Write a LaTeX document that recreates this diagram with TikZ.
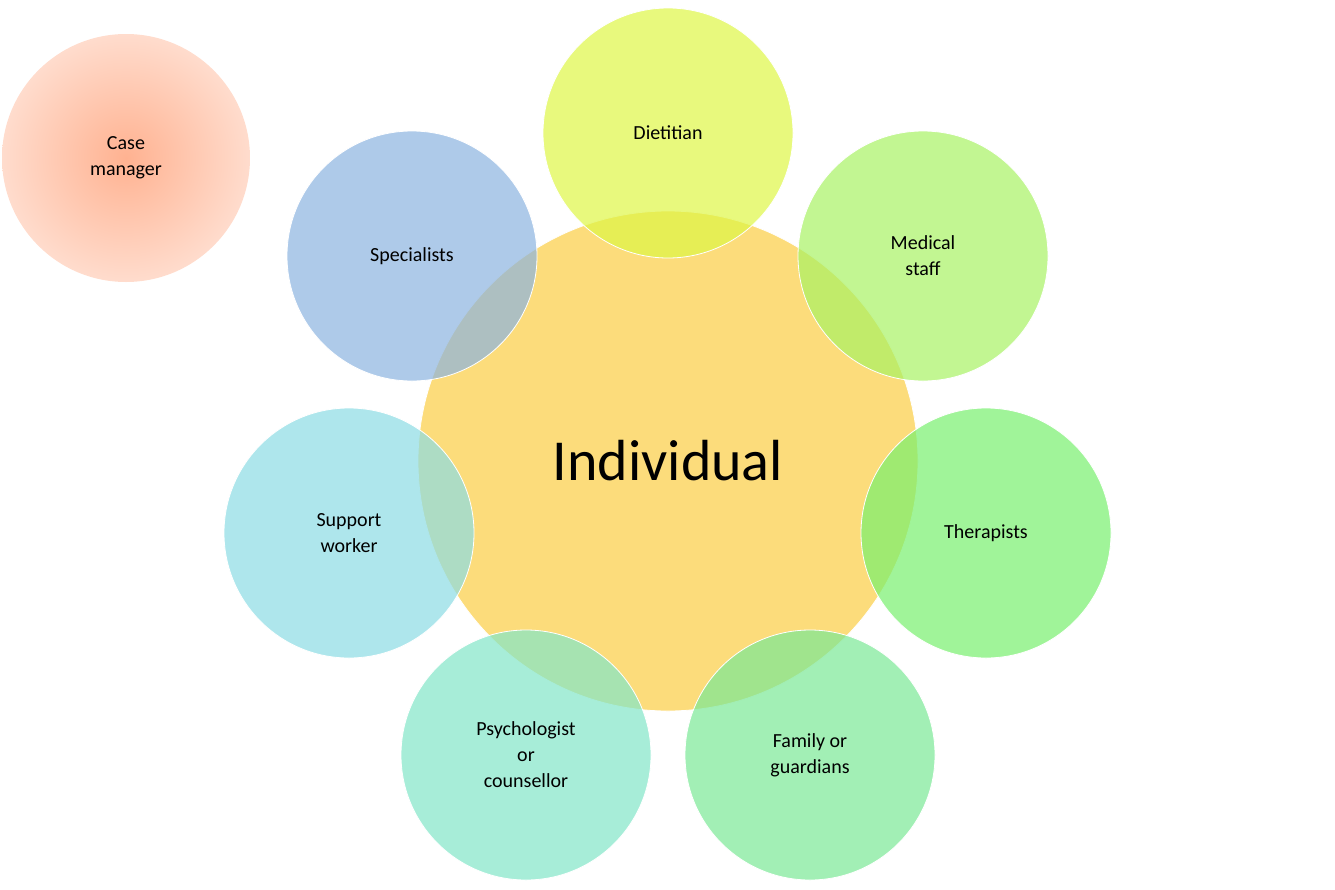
\documentclass[tikz,border=0pt]{standalone}
\usepackage{fontspec}
\setmainfont{Carlito}
\definecolor{hub}{RGB}{252,214,100}
\definecolor{dietc}{RGB}{222,246,70}
\definecolor{medc}{RGB}{168,242,100}
\definecolor{therc}{RGB}{120,240,110}
\definecolor{famc}{RGB}{122,232,150}
\definecolor{psyc}{RGB}{130,230,200}
\definecolor{supc}{RGB}{140,220,228}
\definecolor{specc}{RGB}{140,180,224}
\begin{document}
\begin{tikzpicture}[x=1pt, y=-1pt, outer sep = 0pt]
  \tikzstyle{member}=[
    draw=white,
    circle,
    minimum size=250pt,
    align=center,
    font=\fontsize{20}{26}\selectfont,
    fill opacity=0.7,
    text opacity=1,
    thick
  ]
  \useasboundingbox (0,0) rectangle (1335,889);

  \node[circle, minimum size=500pt, fill=hub!85, draw=white, thick,
        font=\fontsize{58}{70}\selectfont] (indiv) at (668,461) {Individual};

  \node[member, fill=dietc] (diet) at (668,133) {Dietitian};
  \node[member, fill=medc] (med) at (923,256) {Medical\\staff};
  \node[member, fill=therc] (ther) at (986,533) {Therapists};
  \node[member, fill=famc] (fam) at (810,755) {Family or\\guardians};
  \node[member, fill=psyc] (psy) at (526,755) {Psychologist\\or\\counsellor};
  \node[member, fill=supc] (sup) at (349,533) {Support\\worker};
  \node[member, fill=specc] (spec) at (412,256) {Specialists};

  \node[circle, minimum size=248pt, inner color={rgb,255:red,255;green,178;blue,145},
        outer color={rgb,255:red,255;green,220;blue,205}, align=center,
        font=\fontsize{20}{26}\selectfont] (case) at (126,158) {Case\\manager};
\end{tikzpicture}
\end{document}
